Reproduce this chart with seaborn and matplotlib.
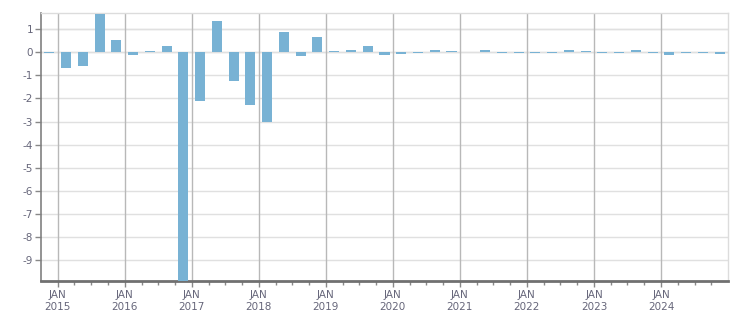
import matplotlib
matplotlib.use("Agg")
import matplotlib.pyplot as plt
import seaborn as sns
import pandas as pd
import numpy as np
from matplotlib.ticker import FixedLocator, FixedFormatter

quarters = ["2014Q4",
            "2015Q1", "2015Q2", "2015Q3", "2015Q4",
            "2016Q1", "2016Q2", "2016Q3", "2016Q4",
            "2017Q1", "2017Q2", "2017Q3", "2017Q4",
            "2018Q1", "2018Q2", "2018Q3", "2018Q4",
            "2019Q1", "2019Q2", "2019Q3", "2019Q4",
            "2020Q1", "2020Q2", "2020Q3", "2020Q4",
            "2021Q1", "2021Q2", "2021Q3", "2021Q4",
            "2022Q1", "2022Q2", "2022Q3", "2022Q4",
            "2023Q1", "2023Q2", "2023Q3", "2023Q4",
            "2024Q1", "2024Q2", "2024Q3", "2024Q4"]
values = [-0.02,
          -0.68, -0.59, 1.67, 0.54,
          -0.12, 0.05, 0.27, -10.0,
          -2.12, 1.36, -1.25, -2.29,
          -3.03, 0.88, -0.16, 0.67,
          0.04, 0.08, 0.26, -0.12,
          -0.07, -0.03, 0.08, 0.04,
          0.0, 0.08, -0.02, -0.02,
          -0.02, -0.02, 0.08, 0.04,
          -0.02, -0.02, 0.08, -0.02,
          -0.12, -0.02, -0.02, -0.07]
year_ticks = list(range(2015, 2025))
year_labels = [f"JAN\n{y}" for y in year_ticks]
y_ticks = list(range(-9, 2))

# decimal-year centre of each quarter
per = pd.PeriodIndex(quarters, freq="Q")
xpos = per.year + (per.quarter - 1) * 0.25 + 0.125

df = pd.DataFrame({"x": xpos, "v": values})

plt.rcParams["axes.unicode_minus"] = False
fig = plt.figure(figsize=(7.51, 3.13), dpi=100)
ax = fig.add_axes([0.055, 0.1032, 0.9144, 0.8543])

sns.barplot(data=df, x="x", y="v", native_scale=True, width=0.6,
            color="#78b2d4", saturation=1, ax=ax, zorder=3)

ax.set_xlim(2014.755, 2025.0)
ax.set_ylim(-9.9, 1.69)
ax.set_xlabel("")
ax.set_ylabel("")

txt = "#66667a"
ax.xaxis.set_major_locator(FixedLocator(year_ticks))
ax.xaxis.set_major_formatter(FixedFormatter(year_labels))
minor = [y + q * 0.25 for y in range(2014, 2025) for q in range(1, 4)]
ax.xaxis.set_minor_locator(FixedLocator(minor))
ax.yaxis.set_major_locator(FixedLocator(y_ticks))
ax.set_yticklabels([str(t) for t in y_ticks])

ax.tick_params(axis="x", which="major", length=4, width=1, color="#888888",
               labelsize=7.5, labelcolor=txt, pad=3)
ax.tick_params(axis="x", which="minor", length=3, width=1, color="#888888")
ax.tick_params(axis="y", length=4, width=1, color="#888888",
               labelsize=7.5, labelcolor=txt, pad=2)
for lab in ax.get_xticklabels():
    lab.set_linespacing(1.25)

ax.grid(False)
for t in y_ticks + [1]:
    ax.axhline(t, color="#e0e0e0", lw=1, zorder=1)
ax.axhline(0, color="#e0e0e0", lw=1, zorder=1)
for y in year_ticks:
    ax.axvline(y, color="#b8b8b8", lw=1, zorder=1.5)

ax.spines["left"].set_color("#808080")
ax.spines["left"].set_linewidth(1.2)
ax.spines["bottom"].set_color("#707070")
ax.spines["bottom"].set_linewidth(2)
ax.spines["top"].set_color("#dcdcdc")
ax.spines["right"].set_color("#dcdcdc")
ax.spines["top"].set_linewidth(1)
ax.spines["right"].set_linewidth(1)

fig.savefig("out.png", dpi=100)
